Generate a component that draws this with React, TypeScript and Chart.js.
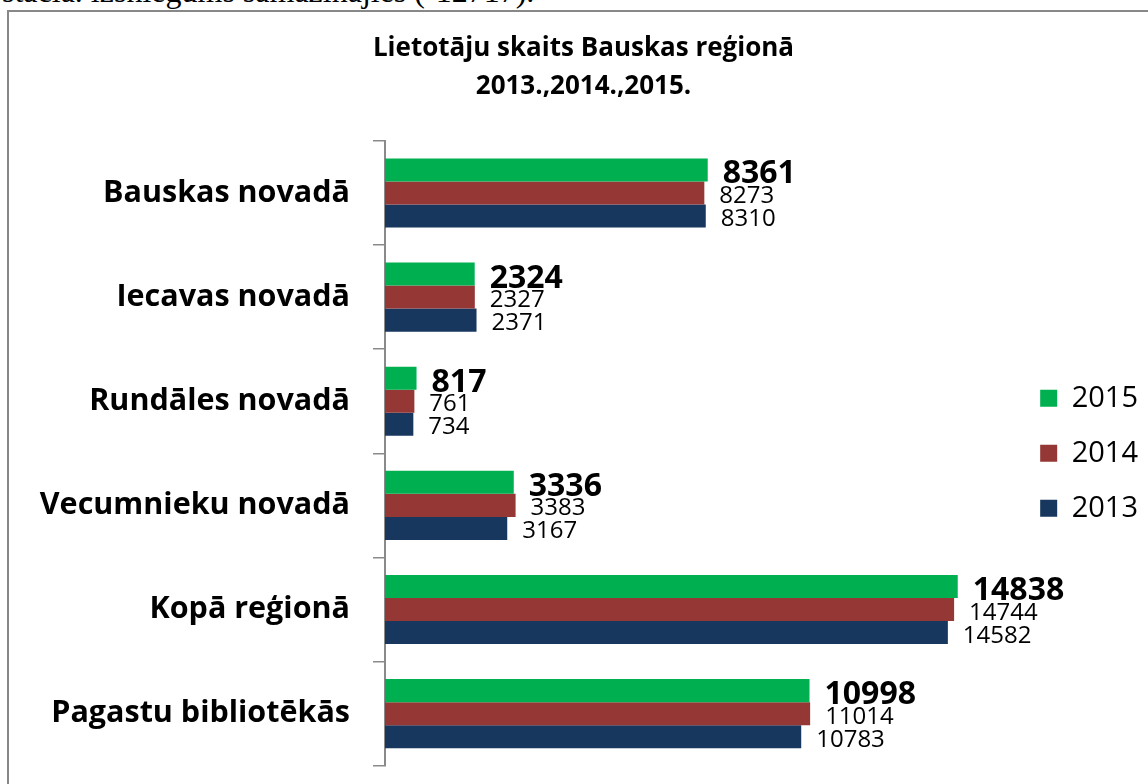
import React, { useEffect, useRef } from "react";
import { Chart, registerables } from "chart.js";

Chart.register(...registerables);

const categories = [
  "Bauskas novadā",
  "Iecavas novadā",
  "Rundāles novadā",
  "Vecumnieku novadā",
  "Kopā reģionā",
  "Pagastu bibliotēkās",
];
const seriesNames = ["2015", "2014", "2013"];
const values2015 = [8361, 2324, 817, 3336, 14838, 10998];
const values2014 = [8273, 2327, 761, 3383, 14744, 11014];
const values2013 = [8310, 2371, 734, 3167, 14582, 10783];
const seriesColors = ["#00B050", "#953735", "#17375E"];
const titleLines = ["Lietotāju skaits Bauskas reģionā", "2013.,2014.,2015."];
const topText = "stacia. izsniegums samazinājies (-12717).";

const FONT = "'Open Sans', 'Noto Sans', sans-serif";

const valueLabels = {
  id: "valueLabels",
  afterDatasetsDraw(chart: any) {
    const ctx = chart.ctx;
    chart.data.datasets.forEach((ds: any, di: number) => {
      const meta = chart.getDatasetMeta(di);
      const bold = di === 0;
      const size = bold ? 32 : 24;
      ctx.save();
      ctx.font = `${bold ? "bold " : ""}${size}px ${FONT}`;
      ctx.fillStyle = "#000";
      ctx.textAlign = "left";
      ctx.textBaseline = "alphabetic";
      meta.data.forEach((bar: any, i: number) => {
        const v = ds.data[i];
        const dy = bold ? 2 : 1.5;
        ctx.fillText(String(v), bar.x + 15, bar.y + dy + 0.357 * size);
      });
      ctx.restore();
    });
  },
};

export default function App() {
  const ref = useRef<HTMLCanvasElement | null>(null);

  useEffect(() => {
    if (!ref.current) return;
    const chart = new Chart(ref.current, {
      type: "bar",
      data: {
        labels: categories,
        datasets: [
          { label: seriesNames[0], data: values2015, backgroundColor: seriesColors[0] },
          { label: seriesNames[1], data: values2014, backgroundColor: seriesColors[1] },
          { label: seriesNames[2], data: values2013, backgroundColor: seriesColors[2] },
        ],
      },
      options: {
        indexAxis: "y",
        responsive: false,
        animation: false,
        events: [],
        datasets: {
          bar: { categoryPercentage: 0.663, barPercentage: 1, borderWidth: 0 },
        },
        layout: { padding: { top: 0, left: 10, right: 0, bottom: 0 } },
        scales: {
          x: { display: false, min: 0, max: 16300 },
          y: {
            grid: {
              drawOnChartArea: false,
              tickLength: 12,
              color: "#8a8a8a",
              lineWidth: 1.5,
              offset: true,
            },
            border: { color: "#8a8a8a", width: 2 },
            ticks: {
              font: { family: FONT, size: 30.5, weight: "bold" },
              color: "#000",
              padding: 23,
            },
            afterFit: (s: any) => {
              s.width = 366;
            },
          },
        },
        plugins: {
          title: {
            display: true,
            text: titleLines,
            color: "#000",
            font: { family: FONT, size: 26, weight: "bold", lineHeight: 1.46 },
            padding: { top: 18, bottom: 35 },
          },
          legend: {
            position: "right",
            fullSize: false,
            labels: {
              font: { family: FONT, size: 29 },
              color: "#000",
              boxWidth: 17,
              boxHeight: 17,
              padding: 26,
            },
          },
          tooltip: { enabled: false },
        },
      },
      plugins: [valueLabels],
    } as any);
    return () => chart.destroy();
  }, []);

  return (
    <div style={{ position: "fixed", inset: 0, overflow: "hidden", background: "#fff" }}>
      <div
        style={{
          position: "absolute",
          left: 2,
          top: -25,
          fontFamily: "'Liberation Serif', serif",
          fontSize: 32,
          lineHeight: "32px",
          whiteSpace: "nowrap",
          color: "#000",
        }}
      >
        {topText}
      </div>
      <div
        style={{
          position: "absolute",
          left: 7,
          top: 10,
          width: 1200,
          height: 840,
          border: "2px solid #888",
          background: "#fff",
        }}
      >
        <canvas ref={ref} width={1139} height={795} style={{ display: "block" }} />
      </div>
    </div>
  );
}
